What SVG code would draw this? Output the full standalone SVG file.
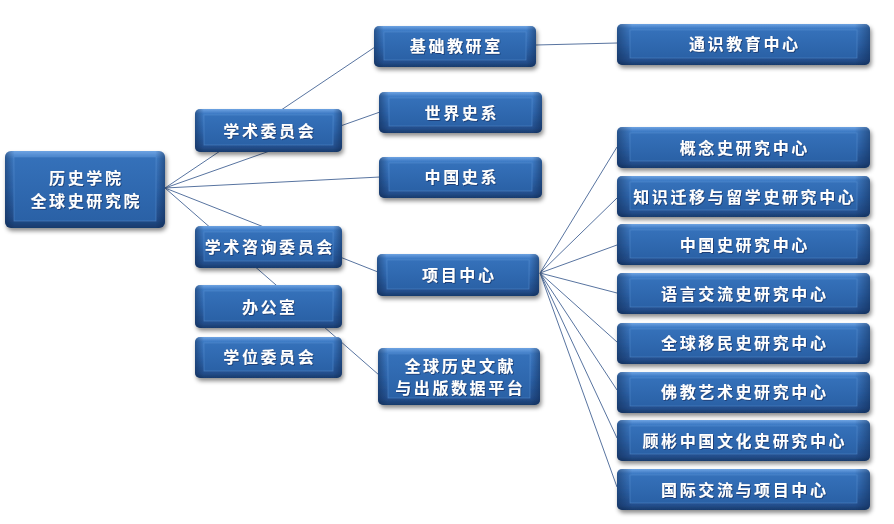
<svg xmlns="http://www.w3.org/2000/svg" width="894" height="524" viewBox="0 0 894 524">
<defs>
<linearGradient id="gv" x1="0" y1="0" x2="0" y2="1">
<stop offset="0" stop-color="#6ea3e2"/>
<stop offset="0.1" stop-color="#3f7cc6"/>
<stop offset="0.5" stop-color="#2f68b0"/>
<stop offset="0.88" stop-color="#244f8d"/>
<stop offset="1" stop-color="#183b6c"/>
</linearGradient>
<linearGradient id="gh" x1="0" y1="0" x2="1" y2="0">
<stop offset="0" stop-color="#0b2247" stop-opacity="0.45"/>
<stop offset="0.06" stop-color="#0b2247" stop-opacity="0"/>
<stop offset="0.94" stop-color="#0b2247" stop-opacity="0"/>
<stop offset="1" stop-color="#0b2247" stop-opacity="0.45"/>
</linearGradient>
<linearGradient id="gi" x1="0" y1="0" x2="0" y2="1">
<stop offset="0" stop-color="#3571ba"/>
<stop offset="1" stop-color="#2a61a6"/>
</linearGradient>
<filter id="sh" x="-10%" y="-20%" width="125%" height="150%">
<feDropShadow dx="1.5" dy="3" stdDeviation="2" flood-color="#000" flood-opacity="0.45"/>
</filter>
<filter id="ts" x="-5%" y="-20%" width="110%" height="150%">
<feDropShadow dx="0.8" dy="0.8" stdDeviation="0.5" flood-color="#0a2450" flood-opacity="0.7"/>
</filter>
</defs>
<style>
.o{fill:url(#gv)}
.e{fill:url(#gh)}
.i{fill:url(#gi);stroke:#5d92d2;stroke-opacity:0.55;stroke-width:0.8}
.b{filter:url(#sh)}
text{fill:#fff;font-family:"Noto Sans CJK SC","Noto Sans CJK JP",sans-serif;font-weight:bold;font-size:16px;letter-spacing:2.6px;text-anchor:middle;dominant-baseline:central;filter:url(#ts)}
.c line{stroke:#5874a0;stroke-width:1}
</style>
<rect width="894" height="524" fill="#fff"/>
<g class="c" id="connectors">
<line x1="165" y1="188" x2="375" y2="47"/>
<line x1="165" y1="188" x2="380" y2="112"/>
<line x1="165" y1="188" x2="380" y2="177"/>
<line x1="165" y1="188" x2="378" y2="272"/>
<line x1="165" y1="188" x2="379" y2="375"/>
<line x1="536" y1="45" x2="617" y2="43"/>
<line x1="540" y1="273" x2="617" y2="147"/>
<line x1="540" y1="273" x2="617" y2="198"/>
<line x1="540" y1="273" x2="617" y2="245"/>
<line x1="540" y1="273" x2="617" y2="293"/>
<line x1="540" y1="273" x2="617" y2="342"/>
<line x1="540" y1="273" x2="617" y2="390"/>
<line x1="540" y1="273" x2="617" y2="438"/>
<line x1="540" y1="273" x2="617" y2="487"/>
</g>
<g id="root"><g class="b"><rect class="o" x="5" y="151" width="160" height="77" rx="6"/></g><rect class="e" x="5" y="151" width="160" height="77" rx="6"/><rect class="i" x="14" y="157" width="142" height="64"/><text x="86.3" y="177">历史学院</text><text x="86.3" y="200">全球史研究院</text></g>
<g id="xueshu"><g class="b"><rect class="o" x="195" y="109" width="147" height="43" rx="5"/></g><rect class="e" x="195" y="109" width="147" height="43" rx="5"/><rect class="i" x="204" y="115" width="129" height="30"/><text x="269.8" y="129.5">学术委员会</text></g>
<g id="zixun"><g class="b"><rect class="o" x="195" y="226" width="147" height="42" rx="5"/></g><rect class="e" x="195" y="226" width="147" height="42" rx="5"/><rect class="i" x="204" y="232" width="129" height="29"/><text x="269.8" y="245.5">学术咨询委员会</text></g>
<g id="bangongshi"><g class="b"><rect class="o" x="195" y="285" width="147" height="43" rx="5"/></g><rect class="e" x="195" y="285" width="147" height="43" rx="5"/><rect class="i" x="204" y="291" width="129" height="30"/><text x="269.8" y="305.5">办公室</text></g>
<g id="xuewei"><g class="b"><rect class="o" x="195" y="337" width="147" height="41" rx="5"/></g><rect class="e" x="195" y="337" width="147" height="41" rx="5"/><rect class="i" x="204" y="343" width="129" height="28"/><text x="269.8" y="356">学位委员会</text></g>
<g id="jichu"><g class="b"><rect class="o" x="374" y="26" width="162" height="41" rx="5"/></g><rect class="e" x="374" y="26" width="162" height="41" rx="5"/><rect class="i" x="384" y="32" width="142" height="28"/><text x="456.3" y="44.5">基础教研室</text></g>
<g id="shijie"><g class="b"><rect class="o" x="379" y="92" width="163" height="41" rx="5"/></g><rect class="e" x="379" y="92" width="163" height="41" rx="5"/><rect class="i" x="389" y="98" width="143" height="28"/><text x="461.8" y="111.5">世界史系</text></g>
<g id="zhongguo"><g class="b"><rect class="o" x="379" y="157" width="163" height="41" rx="5"/></g><rect class="e" x="379" y="157" width="163" height="41" rx="5"/><rect class="i" x="389" y="163" width="143" height="28"/><text x="461.8" y="176">中国史系</text></g>
<g id="xiangmu"><g class="b"><rect class="o" x="377" y="254" width="162" height="42" rx="5"/></g><rect class="e" x="377" y="254" width="162" height="42" rx="5"/><rect class="i" x="387" y="260" width="142" height="29"/><text x="459.3" y="274">项目中心</text></g>
<g id="wenxian"><g class="b"><rect class="o" x="378" y="348" width="162" height="57" rx="5"/></g><rect class="e" x="378" y="348" width="162" height="57" rx="5"/><rect class="i" x="388" y="354" width="142" height="44"/><text x="460.3" y="365">全球历史文献</text><text x="460.3" y="387">与出版数据平台</text></g>
<g id="tongshi"><g class="b"><rect class="o" x="617" y="24" width="253" height="41" rx="5"/></g><rect class="e" x="617" y="24" width="253" height="41" rx="5"/><rect class="i" x="630" y="30" width="227" height="28"/><text x="744.8" y="43">通识教育中心</text></g>
<g id="gainian"><g class="b"><rect class="o" x="617" y="127" width="253" height="41" rx="5"/></g><rect class="e" x="617" y="127" width="253" height="41" rx="5"/><rect class="i" x="630" y="133" width="227" height="28"/><text x="744.8" y="146.5">概念史研究中心</text></g>
<g id="zhishi"><g class="b"><rect class="o" x="617" y="176" width="253" height="41" rx="5"/></g><rect class="e" x="617" y="176" width="253" height="41" rx="5"/><rect class="i" x="630" y="182" width="227" height="28"/><text x="744.8" y="195.5">知识迁移与留学史研究中心</text></g>
<g id="zgs"><g class="b"><rect class="o" x="617" y="224" width="253" height="41" rx="5"/></g><rect class="e" x="617" y="224" width="253" height="41" rx="5"/><rect class="i" x="630" y="230" width="227" height="28"/><text x="744.8" y="244">中国史研究中心</text></g>
<g id="yuyan"><g class="b"><rect class="o" x="617" y="273" width="253" height="41" rx="5"/></g><rect class="e" x="617" y="273" width="253" height="41" rx="5"/><rect class="i" x="630" y="279" width="227" height="28"/><text x="744.8" y="292.5">语言交流史研究中心</text></g>
<g id="yimin"><g class="b"><rect class="o" x="617" y="323" width="253" height="41" rx="5"/></g><rect class="e" x="617" y="323" width="253" height="41" rx="5"/><rect class="i" x="630" y="329" width="227" height="28"/><text x="744.8" y="342">全球移民史研究中心</text></g>
<g id="fojiao"><g class="b"><rect class="o" x="617" y="372" width="253" height="41" rx="5"/></g><rect class="e" x="617" y="372" width="253" height="41" rx="5"/><rect class="i" x="630" y="378" width="227" height="28"/><text x="744.8" y="391">佛教艺术史研究中心</text></g>
<g id="gubin"><g class="b"><rect class="o" x="617" y="420" width="253" height="41" rx="5"/></g><rect class="e" x="617" y="420" width="253" height="41" rx="5"/><rect class="i" x="630" y="426" width="227" height="28"/><text x="744.8" y="439.5">顾彬中国文化史研究中心</text></g>
<g id="guoji"><g class="b"><rect class="o" x="617" y="469" width="253" height="41" rx="5"/></g><rect class="e" x="617" y="469" width="253" height="41" rx="5"/><rect class="i" x="630" y="475" width="227" height="28"/><text x="744.8" y="488.5">国际交流与项目中心</text></g>
</svg>
